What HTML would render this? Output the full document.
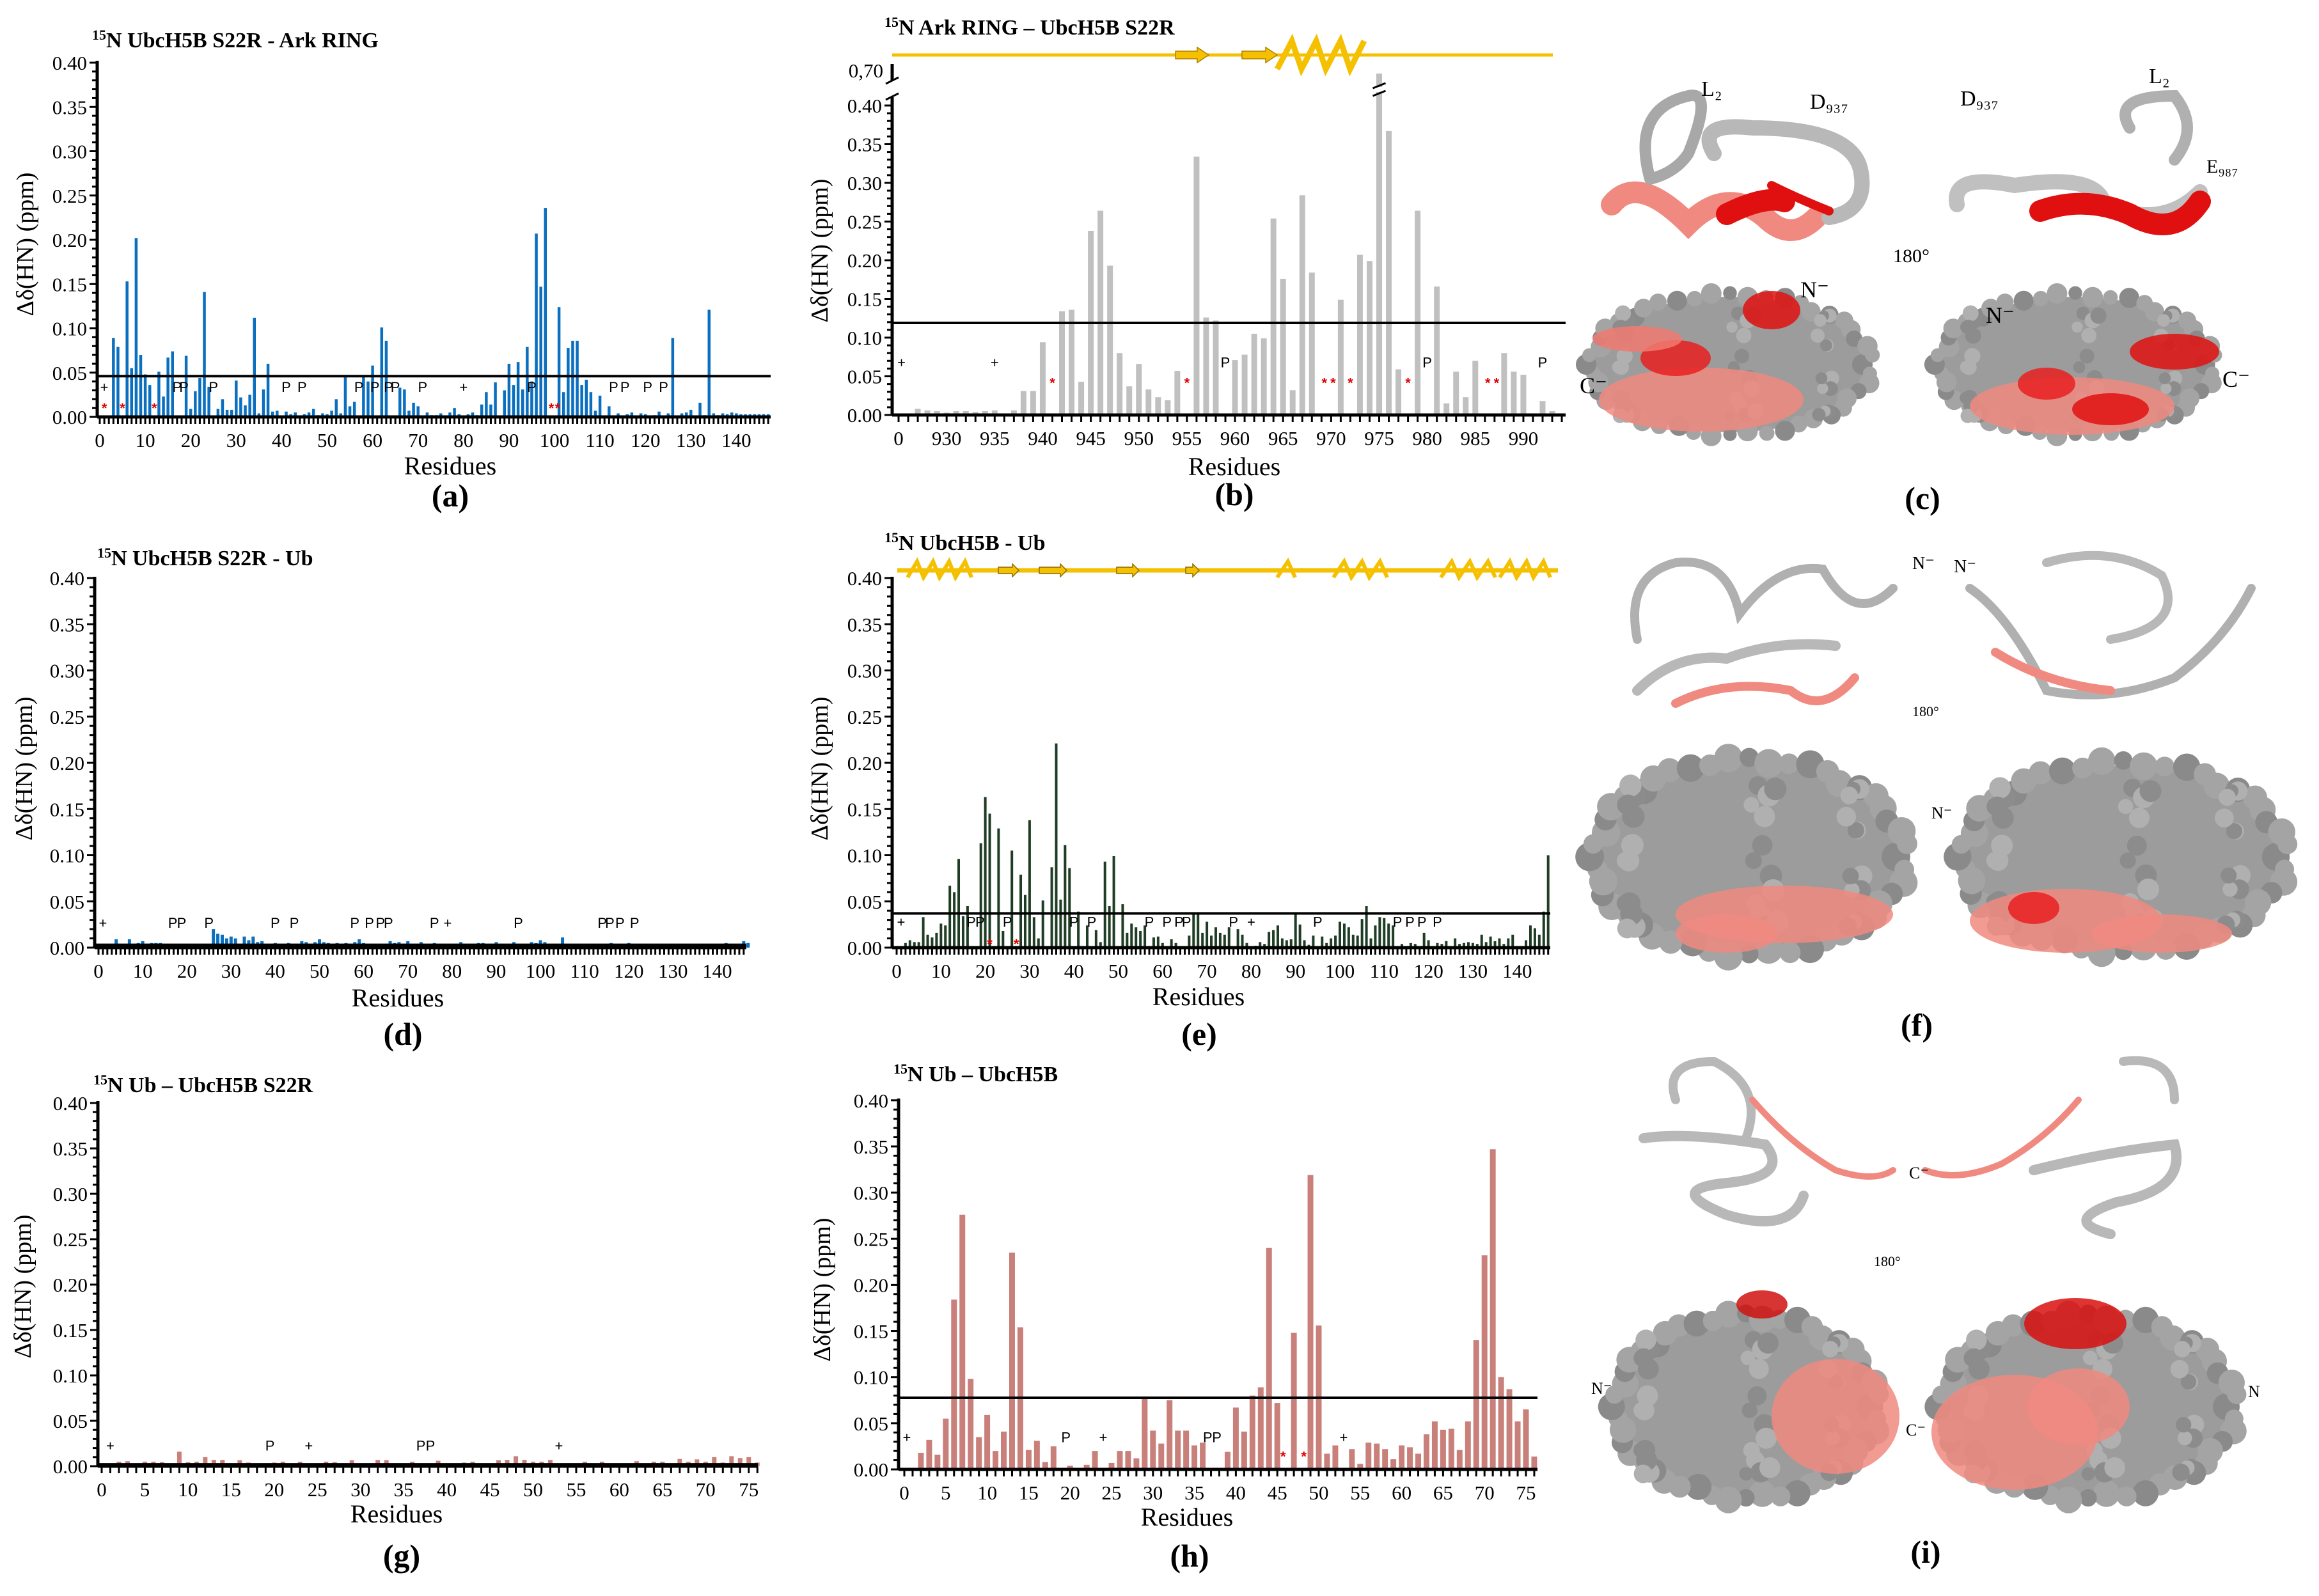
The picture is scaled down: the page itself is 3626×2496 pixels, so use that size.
<!DOCTYPE html>
<html><head><meta charset="utf-8"><style>
html,body{margin:0;padding:0;background:#fff}
svg{display:block}
text{font-family:"Liberation Serif",serif}
.tk{font-size:31px}
.mk{font-family:"Liberation Sans",sans-serif;font-size:22px}
</style></head>
<body>
<svg id="fig" xmlns="http://www.w3.org/2000/svg" width="3626" height="2496" viewBox="0 0 3626 2496">
<rect width="3626" height="2496" fill="#fff"/>
</svg>
<script>
// ---------- data ----------
const aRes=[3,4,6,7,8,9,10,11,13,14,15,16,19,20,21,22,23,24,26,27,28,29,30,31,32,33,34,35,36,37,38,39,41,42,43,45,46,47,48,49,50,51,52,53,54,55,56,58,59,60,62,63,66,67,68,69,70,72,73,74,75,77,78,79,81,82,83,84,85,86,87,89,90,91,92,93,94,95,96,97,98,101,102,103,104,105,106,107,108,109,110,112,114,116,117,119,120,122,123,125,126,128,129,130,132,133,134,135,136,137,138,139,140,141,142,143,144,145,146,147];
const aVal=[0.089,0.079,0.153,0.055,0.202,0.070,0.048,0.036,0.051,0.023,0.067,0.074,0.069,0.009,0.029,0.044,0.141,0.034,0.009,0.020,0.008,0.008,0.041,0.022,0.013,0.025,0.112,0.004,0.031,0.060,0.006,0.007,0.006,0.003,0.005,0.003,0.005,0.009,0.002,0.004,0.003,0.007,0.020,0.004,0.045,0.012,0.017,0.045,0.040,0.058,0.101,0.086,0.033,0.031,0.007,0.016,0.012,0.005,0.002,0.002,0.004,0.005,0.010,0.003,0.003,0.005,0.002,0.014,0.028,0.014,0.039,0.030,0.060,0.036,0.062,0.031,0.079,0.040,0.207,0.147,0.236,0.124,0.028,0.078,0.086,0.086,0.036,0.042,0.028,0.007,0.024,0.012,0.004,0.003,0.005,0.004,0.003,0.002,0.006,0.004,0.089,0.004,0.005,0.008,0.016,0.002,0.121,0.004,0.002,0.004,0.003,0.005,0.004,0.003,0.003,0.003,0.003,0.003,0.003,0.003];
const aPlus=[1,80];
const aP=[17,18.5,25,41,44.5,57,60.5,63.5,65,71,95,113,115.5,120.5,124];
const aStar=[1,5,12,99.3,100.7];

const bRes=[927,928,929,930,931,932,933,934,935,937,938,939,940,942,943,944,945,946,947,948,949,950,951,952,953,954,956,957,958,960,961,962,963,964,965,966,967,968,971,973,974,975,976,977,979,981,982,983,984,985,988,989,990,992,993,994];
const bVal=[0.008,0.006,0.005,0.003,0.005,0.005,0.004,0.005,0.006,0.006,0.031,0.031,0.094,0.134,0.136,0.043,0.238,0.264,0.193,0.080,0.037,0.066,0.033,0.023,0.019,0.057,0.334,0.126,0.122,0.071,0.078,0.105,0.099,0.254,0.176,0.032,0.284,0.184,0.149,0.207,0.199,0.700,0.367,0.059,0.264,0.166,0.015,0.056,0.023,0.070,0.080,0.056,0.052,0.018,0.005,0.002];
const bPlus=[925.3,935];
const bP=[959,980,992];
const bStar=[941,955,969.3,970.2,972,978,986.3,987.2];

const dRes=[4,5,7,8,9,10,11,12,13,14,19,20,26,27,28,29,30,31,32,33,34,35,36,37,39,40,42,43,45,46,47,49,50,51,52,53,54,56,58,59,60,66,67,68,70,73,74,76,77,82,84,86,87,89,90,94,97,98,99,100,101,105,111,114,116,117,119,120,122,125,131,133,135,138,139,141,142,146,147];
const dVal=[0.009,0.003,0.009,0.004,0.005,0.007,0.003,0.005,0.005,0.005,0.004,0.004,0.020,0.015,0.014,0.010,0.012,0.010,0.004,0.012,0.008,0.012,0.006,0.007,0.002,0.005,0.004,0.005,0.004,0.007,0.006,0.006,0.009,0.006,0.005,0.004,0.005,0.005,0.006,0.009,0.005,0.007,0.005,0.006,0.007,0.006,0.004,0.005,0.004,0.006,0.003,0.005,0.005,0.004,0.006,0.006,0.003,0.006,0.005,0.008,0.006,0.011,0.004,0.004,0.005,0.004,0.004,0.005,0.004,0.004,0.003,0.004,0.004,0.004,0.003,0.004,0.005,0.007,0.005];
const dPlus=[1,79];
const dP=[16.8,18.8,25,40,44.3,58,61.3,63.8,65.6,76,95,114,115.7,118,121.3];
const dStar=[];

const eRes=[2,3,4,5,6,7,8,9,10,11,12,13,14,15,16,19,20,21,23,24,26,28,29,30,31,32,33,35,36,37,38,39,41,43,45,46,47,48,49,51,52,53,54,55,56,58,59,60,62,63,66,67,68,69,70,71,72,73,74,75,77,78,79,81,82,83,84,85,86,87,88,89,90,91,92,93,94,96,97,98,99,100,101,102,103,104,105,106,107,108,109,110,111,112,114,116,117,119,120,122,123,124,126,127,128,129,130,131,132,133,134,135,136,137,138,139,142,143,144,145,146,147];
const eVal=[0.005,0.008,0.006,0.006,0.033,0.014,0.011,0.016,0.026,0.024,0.067,0.060,0.096,0.034,0.045,0.113,0.163,0.145,0.129,0.018,0.105,0.079,0.057,0.138,0.033,0.010,0.051,0.087,0.221,0.052,0.111,0.086,0.039,0.024,0.019,0.006,0.093,0.045,0.099,0.047,0.016,0.026,0.022,0.018,0.024,0.011,0.012,0.005,0.009,0.005,0.013,0.037,0.038,0.016,0.028,0.013,0.022,0.016,0.014,0.022,0.020,0.014,0.005,0.002,0.006,0.004,0.017,0.019,0.024,0.010,0.008,0.009,0.036,0.025,0.008,0.003,0.013,0.012,0.005,0.010,0.013,0.028,0.026,0.022,0.014,0.013,0.031,0.045,0.010,0.024,0.033,0.032,0.026,0.024,0.004,0.005,0.004,0.016,0.008,0.005,0.004,0.007,0.010,0.004,0.005,0.006,0.005,0.004,0.014,0.006,0.012,0.007,0.010,0.004,0.010,0.014,0.008,0.024,0.021,0.014,0.039,0.100];
const ePlus=[1,80];
const eP=[16.8,18.8,25,40,44,57,61,63.7,65.4,76,95,113,115.8,118.5,122];
const eStar=[21,27];

const gRes=[2,3,4,5,6,7,8,9,10,11,12,13,14,15,16,17,18,20,21,22,23,25,26,27,28,29,30,31,32,33,34,35,36,39,40,42,43,44,45,46,47,48,49,50,51,52,54,56,57,58,59,60,61,62,64,65,66,67,68,69,70,71,72,73,74,75,76];
const gVal=[0.005,0.0055,0.003,0.005,0.005,0.0045,0.002,0.016,0.0045,0.005,0.010,0.007,0.007,0.002,0.0067,0.004,0.002,0.004,0.005,0.002,0.005,0.001,0.005,0.0045,0.002,0.0067,0.002,0.003,0.007,0.0067,0.003,0.002,0.005,0.006,0.002,0.004,0.005,0.002,0.003,0.0067,0.007,0.011,0.007,0.005,0.005,0.007,0.003,0.005,0.003,0.005,0.002,0.003,0.002,0.0055,0.005,0.005,0.002,0.008,0.005,0.0075,0.005,0.010,0.004,0.011,0.009,0.010,0.004];
const gPlus=[1,24,53];
const gP=[19.5,37,38.1];
const gStar=[];

const hRes=[2,3,4,5,6,7,8,9,10,11,12,13,14,15,16,17,18,20,22,23,25,26,27,28,29,30,31,32,33,34,35,36,39,40,41,42,43,44,45,47,49,50,51,52,54,55,56,57,58,59,60,61,62,63,64,65,66,67,68,69,70,71,72,73,74,75,76];
const hVal=[0.018,0.032,0.016,0.055,0.184,0.276,0.098,0.035,0.059,0.020,0.041,0.235,0.154,0.021,0.031,0.008,0.025,0.004,0.005,0.020,0.007,0.020,0.020,0.012,0.078,0.042,0.028,0.075,0.042,0.042,0.026,0.029,0.019,0.067,0.041,0.080,0.089,0.240,0.072,0.148,0.319,0.156,0.017,0.026,0.022,0.006,0.029,0.028,0.022,0.011,0.026,0.024,0.017,0.038,0.052,0.043,0.044,0.021,0.052,0.140,0.232,0.347,0.100,0.087,0.052,0.065,0.014];
const hPlus=[0.3,24,53];
const hP=[19.5,36.6,37.7];
const hStar=[45.7,48.2];

const yTicks=[0,0.05,0.10,0.15,0.20,0.25,0.30,0.35,0.40];
const xTicks140=[0,10,20,30,40,50,60,70,80,90,100,110,120,130,140];
const xTicks75=[0,5,10,15,20,25,30,35,40,45,50,55,60,65,70,75];
const xTicksB=[925,930,935,940,945,950,955,960,965,970,975,980,985,990];
const xTickLabelsB=["0","930","935","940","945","950","955","960","965","970","975","980","985","990"];

// ---------- helpers ----------
const NS='http://www.w3.org/2000/svg';
const svg=document.getElementById('fig');
function mk(tag,attrs,parent,name,inter){
  const e=document.createElementNS(NS,tag);
  for(const k in attrs) e.setAttribute(k,attrs[k]);
  
  
  (parent||svg).appendChild(e);
  return e;
}
function txt(s,x,y,parent,name,attrs){
  const t=mk('text',Object.assign({x:x,y:y},attrs||{}),parent,name,false);
  t.textContent=s;return t;
}
function title(parent,x,y,rest){
  const t=mk('text',{x:x,y:y,'font-size':34,'font-weight':'bold'},parent,'chart-title',false);
  const s=document.createElementNS(NS,'tspan');s.setAttribute('font-size','22');s.setAttribute('dy','-12');s.textContent='15';t.appendChild(s);
  const r=document.createElementNS(NS,'tspan');r.setAttribute('dy','12');r.textContent='N '+rest;t.appendChild(r);
}

function panel(c){
  const g=mk('g',{},svg,'chart-'+c.id,false);
  const X=r=>c.x0+(r-c.r0)*c.step;
  const Y=c.yf||(v=>c.y0-v*c.unit);
  title(g,c.tx,c.ty,c.title);
  const bars=mk('g',{fill:c.color},g,'bars',false);
  for(let i=0;i<c.res.length;i++){
    const v=c.vals[i];const yt=Y(v);
    mk('rect',{x:X(c.res[i])-c.bw/2,y:yt,width:c.bw,height:c.y0-yt},bars,'bar-'+c.res[i],true);
  }
  mk('line',{x1:c.ax,y1:c.y0,x2:c.ax,y2:c.ytop,stroke:'#000','stroke-width':5},g,'y-axis',false);
  mk('line',{x1:c.ax,y1:c.y0,x2:c.xr,y2:c.y0,stroke:'#000','stroke-width':5},g,'x-axis',false);
  let yt=mk('g',{stroke:'#000','stroke-width':3},g,'y-ticks',false);
  for(let k=0;k<=40;k++){const yy=Y(k/100);const L=(k%5===0)?12:8;
    mk('line',{x1:c.ax-L,y1:yy,x2:c.ax,y2:yy},yt,'y-tick',false);}
  let xt=mk('g',{stroke:'#000','stroke-width':3},g,'x-ticks',false);
  for(let r=Math.ceil(c.rmin);X(r)<=c.xr;r++){
    mk('line',{x1:X(r),y1:c.y0,x2:X(r),y2:c.y0+11},xt,'x-tick',false);}
  yTicks.forEach(v=>txt(v.toFixed(2),c.ax-16,Y(v)+11,g,'y-tick-label',{'class':'tk','text-anchor':'end'}));
  c.xt.forEach((r,i)=>txt(c.xl?c.xl[i]:String(r),X(r),c.y0+47,g,'x-tick-label',{'class':'tk','text-anchor':'middle'}));
  mk('line',{x1:c.ax,y1:Y(c.thr),x2:c.xr,y2:Y(c.thr),stroke:'#000','stroke-width':4},g,'threshold-line',false);
  c.plus.forEach(r=>txt('+',X(r),Y(c.my)+8,g,'marker-plus',{'class':'mk','text-anchor':'middle'}));
  c.P.forEach(r=>txt('P',X(r),Y(c.my)+8,g,'marker-proline',{'class':'mk','text-anchor':'middle'}));
  c.star.forEach(r=>txt('*',X(r),Y(c.sy)+12,g,'marker-star',{'class':'mk','text-anchor':'middle',fill:'#e00000','font-weight':'bold','font-size':26}));
  txt('Residues',c.rx,c.y0+c.rdy,g,'x-axis-title',{'font-size':40,'text-anchor':'middle'});
  txt('Δδ(HN) (ppm)',0,0,g,'y-axis-title',{'font-size':38,'text-anchor':'middle',transform:'translate('+c.ylx+','+c.yly+') rotate(-90)'});
  txt('('+c.id+')',c.rx+c.ldx,c.ly,g,'panel-label',{'font-size':50,'font-weight':'bold','text-anchor':'middle'});
  return {g,X,Y};
}

panel({id:'a',title:'UbcH5B S22R - Ark RING',tx:144,ty:74,res:aRes,vals:aVal,color:'#0b6fbf',bw:4.5,
  ax:152,x0:156,r0:0,step:7.11,rmin:0,xr:1205,y0:652,unit:1385,ytop:95,thr:0.046,xt:xTicks140,
  plus:aPlus,P:aP,star:aStar,my:0.034,sy:0.013,rx:704,rdy:90,ylx:52,yly:382,ldx:0,ly:792});
const pb=panel({id:'b',title:'Ark RING – UbcH5B S22R',tx:1383,ty:54,res:bRes,vals:bVal,color:'#c0c0c0',bw:9,
  ax:1395,x0:1405,r0:925,step:15.03,rmin:925,xr:2448,y0:649,unit:1210,ytop:152,thr:0.119,xt:xTicksB,xl:xTickLabelsB,
  yf:v=>v<=0.42?649-v*1210:141-(v-0.42)/0.28*26,
  plus:bPlus,P:bP,star:bStar,my:0.068,sy:0.045,rx:1930,rdy:94,ylx:1294,yly:392,ldx:0,ly:790});
(function(){
  const g=pb.g;
  mk('line',{x1:1395,y1:100,x2:1395,y2:126,stroke:'#000','stroke-width':5},g,'y-axis-upper',false);
  mk('line',{x1:1385,y1:131,x2:1405,y2:121,stroke:'#000','stroke-width':3},g,'axis-break-mark',false);
  mk('line',{x1:1385,y1:156,x2:1405,y2:146,stroke:'#000','stroke-width':3},g,'axis-break-mark',false);
  txt('0,70',1381,121,g,'y-tick-label-break',{'class':'tk','text-anchor':'end','font-size':28});
  const x=pb.X(975);
  mk('rect',{x:x-8,y:136,width:16,height:8,fill:'#fff'},g,'bar-break-gap',false);
  mk('line',{x1:x-10,y1:138,x2:x+10,y2:130,stroke:'#000','stroke-width':3},g,'bar-break-mark',false);
  mk('line',{x1:x-10,y1:150,x2:x+10,y2:142,stroke:'#000','stroke-width':3},g,'bar-break-mark',false);
  const ss=mk('g',{},g,'secondary-structure',false);
  mk('line',{x1:1395,y1:86,x2:2428,y2:86,stroke:'#f5c000','stroke-width':5},ss,'ss-coil',false);
  mk('path',{d:'M1838 80 h34 v-6 l18 12 l-18 12 v-6 h-34z',fill:'#f5c000',stroke:'#b08000','stroke-width':1.5},ss,'ss-strand',false);
  mk('path',{d:'M1942 80 h37 v-6 l18 12 l-18 12 v-6 h-37z',fill:'#f5c000',stroke:'#b08000','stroke-width':1.5},ss,'ss-strand',false);
  mk('path',{d:'M1997 108 L2020 64 L2035 108 L2058 64 L2073 108 L2096 64 L2111 108 L2133 64',fill:'none',stroke:'#f5c000','stroke-width':9,'stroke-linejoin':'miter'},ss,'ss-helix',false);
})();

panel({id:'d',title:'UbcH5B S22R - Ub',tx:152,ty:884,res:dRes,vals:dVal,color:'#0b6fbf',bw:5,
  ax:148,x0:154,r0:0,step:6.91,rmin:0,xr:1167,y0:1482,unit:1445,ytop:902,thr:0.003,xt:xTicks140,
  plus:dPlus,P:dP,star:dStar,my:0.027,sy:0.01,rx:622,rdy:92,ylx:50,yly:1202,ldx:8,ly:1634});
const pe=panel({id:'e',title:'UbcH5B - Ub',tx:1383,ty:860,res:eRes,vals:eVal,color:'#1f3d24',bw:4,
  ax:1395,x0:1402,r0:0,step:6.93,rmin:0,xr:2424,y0:1482,unit:1445,ytop:902,thr:0.037,xt:xTicks140,
  plus:ePlus,P:eP,star:eStar,my:0.028,sy:0.007,rx:1874,rdy:90,ylx:1294,yly:1202,ldx:1,ly:1634});
(function(){
  const ss=mk('g',{},pe.g,'secondary-structure',false);
  mk('line',{x1:1403,y1:892,x2:2436,y2:892,stroke:'#f5c000','stroke-width':7},ss,'ss-coil',false);
  const hel=[[1419,1519],[1997,2025],[2085,2169],[2253,2338],[2345,2424]];
  hel.forEach(h=>{let d='M'+h[0]+' 903';const n=Math.max(1,Math.round((h[1]-h[0])/28));const w=(h[1]-h[0])/n;
    for(let i=0;i<n;i++){d+=' L'+(h[0]+w*i+w*0.6)+' 878 L'+(h[0]+w*(i+1))+' 903';}
    mk('path',{d:d,fill:'none',stroke:'#f5c000','stroke-width':6},ss,'ss-helix',false);});
  const arr=[[1561,1593],[1625,1668],[1746,1781],[1854,1875]];
  arr.forEach(a=>mk('path',{d:'M'+a[0]+' 887 H'+(a[1]-10)+' V882 L'+a[1]+' 892 L'+(a[1]-10)+' 902 V897 H'+a[0]+'Z',fill:'#f5c000',stroke:'#8a6a00','stroke-width':1.5},ss,'ss-strand',false));
})();

panel({id:'g',title:'Ub – UbcH5B S22R',tx:146,ty:1708,res:gRes,vals:gVal,color:'#c9807a',bw:7,
  ax:153,x0:159,r0:0,step:13.49,rmin:0,xr:1185,y0:2293,unit:1420,ytop:1722,thr:0.002,xt:xTicks75,
  plus:gPlus,P:gP,star:gStar,my:0.023,sy:0.01,rx:620,rdy:88,ylx:48,yly:2012,ldx:8,ly:2450});
panel({id:'h',title:'Ub – UbcH5B',tx:1397,ty:1691,res:hRes,vals:hVal,color:'#c9807a',bw:9,
  ax:1405,x0:1414,r0:0,step:12.96,rmin:0,xr:2404,y0:2298,unit:1443,ytop:1718,thr:0.0776,xt:xTicks75,
  plus:hPlus,P:hP,star:hStar,my:0.035,sy:0.017,rx:1856,rdy:88,ylx:1298,yly:2017,ldx:4,ly:2450});

// ---------- molecular illustrations ----------
function blob(parent,cx,cy,rx,ry,name){
  const g=mk('g',{},parent,name,false);
  mk('ellipse',{cx:cx,cy:cy,rx:rx*0.96,ry:ry*0.92,fill:'#9c9c9c'},g,'surface-body',false);
  const n=48;
  for(let i=0;i<n;i++){const a=i/n*Math.PI*2;const k=0.9+0.08*Math.abs(Math.sin(i*2.3));
    mk('circle',{cx:cx+Math.cos(a)*rx*k,cy:cy+Math.sin(a)*ry*k,r:ry*(0.09+0.05*Math.abs(Math.cos(i*1.7))),fill:(i%3?'#a4a4a4':'#8a8a8a')},g,'surface-bump',false);}
  for(let i=0;i<40;i++){
    mk('circle',{cx:cx+rx*0.8*Math.sin(i*2.1),cy:cy+ry*0.7*Math.cos(i*1.3),r:ry*(0.07+0.04*Math.abs(Math.sin(i))),fill:(i%2?'#b0b0b0':'#8c8c8c')},g,'surface-bump',false);}
  return g;
}
function patch(parent,cx,cy,rx,ry,col,op){
  mk('ellipse',{cx:cx,cy:cy,rx:rx,ry:ry,fill:col,opacity:op||0.85},parent,'surface-patch',false);
}
const mol=mk('g',{},svg,'structure-panels',false);
// (c)
const c1=blob(mol,2705,570,230,115,'surface-c-left');
patch(c1,2660,625,160,50,'#f08a80');patch(c1,2620,560,55,28,'#e82020');patch(c1,2770,485,45,30,'#e01010');patch(c1,2560,530,70,20,'#f07a70');
const c2=blob(mol,3245,570,225,115,'surface-c-right');
patch(c2,3240,635,160,45,'#f08a80');patch(c2,3200,600,45,25,'#e82020');patch(c2,3400,550,70,28,'#e01010');patch(c2,3300,640,60,25,'#e01010');
function ribbon(parent,d,col,w,name){mk('path',{d:d,fill:'none',stroke:col,'stroke-width':w,'stroke-linecap':'round'},parent,name,false);}
ribbon(mol,'M2520 320 Q2560 270 2640 350 Q2700 290 2760 340 Q2800 380 2840 340','#f08a80',34,'ribbon-c-left-helix');
ribbon(mol,'M2700 335 Q2760 305 2790 315','#e01010',34,'ribbon-c-left-helix-red');
ribbon(mol,'M2580 280 Q2550 170 2640 150 Q2680 140 2640 240 Q2620 270 2580 280','#a8a8a8',18,'ribbon-c-left-loop');
ribbon(mol,'M2680 240 Q2650 190 2740 200 Q2900 200 2910 270 Q2920 330 2860 340','#b8b8b8',24,'ribbon-c-left-loop2');
ribbon(mol,'M2770 290 Q2810 310 2860 330','#e01010',14,'ribbon-c-left-red');
ribbon(mol,'M3060 320 Q3050 270 3150 290 Q3280 270 3290 320 Q3380 360 3440 300','#c0c0c0',24,'ribbon-c-right-loop');
ribbon(mol,'M3190 330 Q3260 305 3330 335 Q3400 375 3440 315','#e01010',34,'ribbon-c-right-helix');
ribbon(mol,'M3330 200 Q3300 150 3400 150 Q3440 200 3400 250','#b0b0b0',18,'ribbon-c-right-loop2');
txt('L₂',2660,150,mol,'label-L2',{'font-size':34});txt('D₉₃₇',2830,170,mol,'label-D937',{'font-size':34});
txt('L₂',3360,130,mol,'label-L2-right',{'font-size':34});txt('D₉₃₇',3065,165,mol,'label-D937-right',{'font-size':34});
txt('E₉₈₇',3450,270,mol,'label-E987',{'font-size':30});
txt('N⁻',2815,465,mol,'label-N-term',{'font-size':36});txt('C⁻',2470,615,mol,'label-C-term',{'font-size':36});
txt('N⁻',3105,505,mol,'label-N-term-right',{'font-size':36});txt('C⁻',3475,605,mol,'label-C-term-right',{'font-size':36});
txt('180°',2960,410,mol,'rotation-label',{'font-size':30});
txt('(c)',3006,796,mol,'panel-label',{'font-size':50,'font-weight':'bold','text-anchor':'middle'});
// (f)
ribbon(mol,'M2560 1000 Q2540 900 2620 880 Q2700 870 2720 960 Q2780 880 2850 890 Q2900 980 2960 920','#b0b0b0',14,'ribbon-f-left');
ribbon(mol,'M2620 1100 Q2700 1060 2800 1080 Q2850 1120 2900 1060','#f08a80',14,'ribbon-f-left-strand');
ribbon(mol,'M2560 1080 Q2620 1020 2700 1030 Q2780 1000 2870 1010','#b8b8b8',16,'ribbon-f-left-helix');
ribbon(mol,'M3080 920 Q3140 960 3200 1080 Q3300 1100 3400 1060 Q3480 1000 3520 920','#b0b0b0',14,'ribbon-f-right');
ribbon(mol,'M3120 1020 Q3200 1070 3300 1080','#f08a80',14,'ribbon-f-right-strand');
ribbon(mol,'M3200 880 Q3300 850 3380 900 Q3420 980 3300 1000','#b8b8b8',14,'ribbon-f-right-loop');
txt('180°',2990,1120,mol,'rotation-label',{'font-size':22});
txt('N⁻',2990,890,mol,'label-N',{'font-size':28});txt('N⁻',3055,895,mol,'label-N',{'font-size':28});
const f1=blob(mol,2735,1340,255,160,'surface-f-left');
patch(f1,2790,1430,170,45,'#f08a80');patch(f1,2700,1460,80,30,'#f08a80');
const f2=blob(mol,3320,1340,265,155,'surface-f-right');
patch(f2,3230,1440,150,50,'#f08a80');patch(f2,3180,1420,40,25,'#e82020');patch(f2,3380,1460,110,30,'#f08a80');
txt('N⁻',3020,1280,mol,'label-N',{'font-size':26});
txt('(f)',2997,1620,mol,'panel-label',{'font-size':50,'font-weight':'bold','text-anchor':'middle'});
// (i)
ribbon(mol,'M2570 1780 Q2640 1770 2760 1790 Q2800 1840 2700 1850 Q2600 1860 2700 1900 Q2800 1930 2820 1870','#b8b8b8',16,'ribbon-i-left');
ribbon(mol,'M2620 1720 Q2600 1660 2680 1660 Q2760 1700 2730 1780','#b8b8b8',14,'ribbon-i-left-loop');
ribbon(mol,'M2740 1720 Q2800 1790 2870 1830 Q2930 1850 2960 1830','#f08a80',10,'ribbon-i-left-tail');
ribbon(mol,'M3010 1830 Q3060 1850 3130 1820 Q3200 1780 3250 1720','#f08a80',10,'ribbon-i-right-tail');
ribbon(mol,'M3180 1830 Q3300 1800 3400 1790 Q3420 1860 3310 1880 Q3220 1910 3300 1930','#b8b8b8',16,'ribbon-i-right');
ribbon(mol,'M3320 1660 Q3400 1650 3400 1720','#b8b8b8',14,'ribbon-i-right-loop');
txt('180°',2930,1980,mol,'rotation-label',{'font-size':22});
const i1=blob(mol,2730,2200,215,150,'surface-i-left');
patch(i1,2870,2215,100,90,'#f08a80');patch(i1,2755,2040,40,22,'#d01010');
const i2=blob(mol,3265,2200,240,150,'surface-i-right');
patch(i2,3150,2240,130,90,'#f08a80');patch(i2,3250,2200,80,60,'#f08a80');patch(i2,3245,2070,80,40,'#d81010');
txt('N⁻',2488,2180,mol,'label-N',{'font-size':26});txt('C⁻',2980,2245,mol,'label-C',{'font-size':26});txt('N',3515,2185,mol,'label-N',{'font-size':26});
txt('C⁻',2985,1843,mol,'label-C',{'font-size':26});
txt('(i)',3011,2444,mol,'panel-label',{'font-size':50,'font-weight':'bold','text-anchor':'middle'});
</script>
</body></html>
